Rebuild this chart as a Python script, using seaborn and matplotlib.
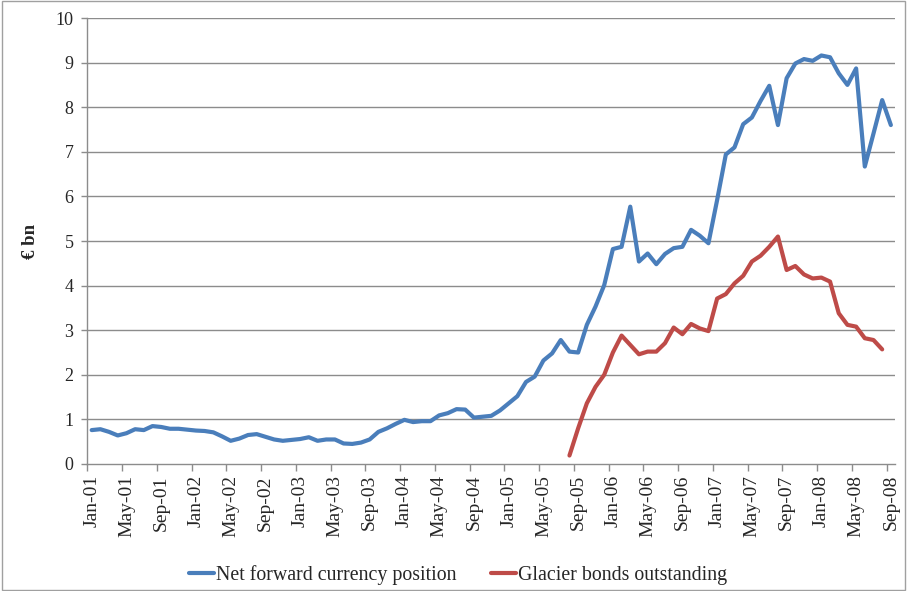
import numpy as np
import pandas as pd
import matplotlib
matplotlib.use("Agg")
import matplotlib.pyplot as plt
from matplotlib.patches import Rectangle
import seaborn as sns

# monthly data, Jan-01 .. Sep-08
months = pd.date_range("2001-01-01", "2008-09-01", freq="MS")
month_labels = [d.strftime("%b-%y") for d in months]

net_forward = [
    0.76, 0.78, 0.72, 0.64, 0.69, 0.78, 0.76, 0.85, 0.83, 0.79, 0.79, 0.77,
    0.75, 0.74, 0.71, 0.62, 0.52, 0.57, 0.65, 0.67, 0.61, 0.55, 0.52, 0.54,
    0.56, 0.60, 0.52, 0.55, 0.55, 0.46, 0.45, 0.48, 0.55, 0.72, 0.80, 0.90,
    0.99, 0.94, 0.96, 0.96, 1.09, 1.14, 1.23, 1.22, 1.04, 1.06, 1.08, 1.20,
    1.36, 1.52, 1.84, 1.96, 2.32, 2.48, 2.78, 2.52, 2.50, 3.12, 3.53, 4.01,
    4.82, 4.87, 5.77, 4.54, 4.72, 4.48, 4.71, 4.84, 4.87, 5.25, 5.12, 4.95,
    5.92, 6.94, 7.10, 7.62, 7.77, 8.14, 8.48, 7.60, 8.65, 8.98, 9.08, 9.04,
    9.16, 9.12, 8.76, 8.50, 8.87, 6.67, 7.41, 8.16, 7.60,
]

# Glacier bonds: Aug-05 .. Aug-08
glacier_start = "2005-08-01"
glacier = [
    0.19, 0.80, 1.36, 1.73, 2.00, 2.50, 2.88, 2.67, 2.46, 2.52, 2.52, 2.71,
    3.06, 2.91, 3.14, 3.04, 2.98, 3.71, 3.81, 4.05, 4.22, 4.54, 4.67, 4.87,
    5.10, 4.35, 4.44, 4.25, 4.16, 4.18, 4.09, 3.38, 3.12, 3.08, 2.82, 2.78,
    2.57,
]

BLUE = "#4A7EBB"
RED = "#BE4B48"
GRID = "#8C8C8C"

df_net = pd.DataFrame({"idx": np.arange(len(months)), "value": net_forward})
g0 = list(months).index(pd.Timestamp(glacier_start))
df_gl = pd.DataFrame({"idx": np.arange(g0, g0 + len(glacier)), "value": glacier})

sns.set_style("white")
plt.rcParams["font.family"] = ["Liberation Serif", "DejaVu Serif"]

fig = plt.figure(figsize=(9.07, 5.91), dpi=100)
ax = fig.add_axes([0.0963, 0.2149, 0.8907, 0.7546])

sns.lineplot(data=df_net, x="idx", y="value", ax=ax, color=BLUE, linewidth=3.0,
             label="Net forward currency position")
sns.lineplot(data=df_gl, x="idx", y="value", ax=ax, color=RED, linewidth=3.0,
             label="Glacier bonds outstanding")

ax.set_xlim(-0.5, len(months) - 0.5)
ax.set_ylim(0, 10)
ax.set_yticks(range(0, 11))
ax.tick_params(axis="y", labelsize=13, length=4, width=1, color=GRID, pad=6,
               direction="out", left=True)
for v in range(1, 11):
    ax.axhline(v, color=GRID, linewidth=1, zorder=0)

pos = np.arange(0, len(months), 4)
ax.set_xticks(pos)
ax.set_xticklabels([month_labels[i] for i in pos], rotation=90, fontsize=14)
ax.set_xticks(np.arange(-0.5, len(months), 4), minor=True)
ax.tick_params(axis="x", which="major", length=0, pad=8)
ax.tick_params(axis="x", which="minor", length=5, width=1, color=GRID,
               direction="out", bottom=True)

ax.set_xlabel("")
ax.set_ylabel("€ bn", fontsize=13.5, fontweight="bold", labelpad=12)

for side in ["top", "right"]:
    ax.spines[side].set_visible(False)
for side in ["left", "bottom"]:
    ax.spines[side].set_color(GRID)
    ax.spines[side].set_linewidth(1)

ax.legend_.remove()
handles, labels = ax.get_legend_handles_labels()
fig.legend(handles, labels, loc="lower center", bbox_to_anchor=(0.505, -0.02),
           ncol=2, frameon=False, fontsize=14.3, handlelength=1.3,
           handletextpad=0.1, columnspacing=1.7)

# chart area border
fig.patches.append(Rectangle((0.002, 0.002), 0.996, 0.996, transform=fig.transFigure,
                             fill=False, edgecolor="#A0A0A0", linewidth=1))

fig.savefig("out.png", dpi=100, facecolor="white")
